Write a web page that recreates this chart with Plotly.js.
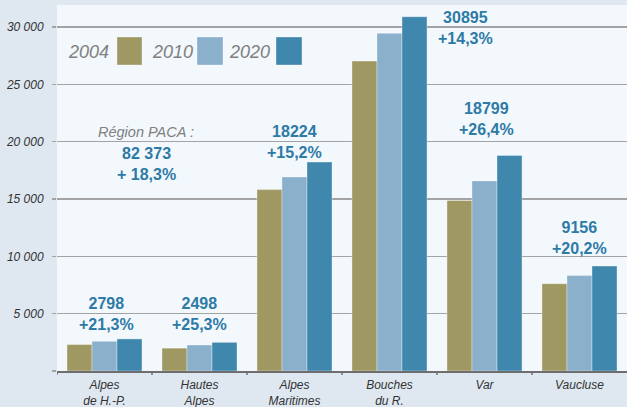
<!DOCTYPE html>
<html>
<head>
<meta charset="utf-8">
<script src="https://cdn.plot.ly/plotly-3.0.1.min.js"></script>
<style>html,body{margin:0;padding:0;background:#dfe8f1;}#chart{width:627px;height:407px;}</style>
</head>
<body>
<div id="chart"></div>
<script>
// Data
var departements = ["Alpes<br>de H.-P.", "Hautes<br>Alpes", "Alpes<br>Maritimes", "Bouches<br>du R.", "Var", "Vaucluse"];
var years = ["2004", "2010", "2020"];
var values2004 = [2307, 1994, 15819, 27030, 14873, 7617];
var values2010 = [2590, 2270, 16930, 29450, 16580, 8320];
var values2020 = [2798, 2498, 18224, 30895, 18799, 9156];
var totals2020 = ["2798", "2498", "18224", "30895", "18799", "9156"];
var growth = ["+21,3%", "+25,3%", "+15,2%", "+14,3%", "+26,4%", "+20,2%"];
var regionLabel = "Région PACA :";
var regionTotal = "82 373";
var regionGrowth = "+ 18,3%";
var yTicks = [0, 5000, 10000, 15000, 20000, 25000, 30000];
var yTickLabels = ["", "5 000", "10 000", "15 000", "20 000", "25 000", "30 000"];

var colors = ["#a09862", "#8ab0cc", "#3f87ad"];
var series = [values2004, values2010, values2020];
var cats = [0,1,2,3,4,5];

var traces = series.map(function(v, i){
  return {
    type: "bar", x: cats, y: v, name: years[i],
    marker: {color: colors[i], line: {color: "rgba(255,255,255,0.35)", width: 1}},
    hoverinfo: "skip", showlegend: false
  };
});

// label placement (x as category index, y in data units)
var labelPos = [[0.02, 5015], [1, 5015], [2, 19970], [3.795, 29900], [4.016, 22020], [5, 11600]];
var annFont = {family: "Liberation Sans, Arial, sans-serif", size: 16, color: "#2e7aa6"};
var annotations = totals2020.map(function(t, i){
  return {x: labelPos[i][0], y: labelPos[i][1], xref: "x", yref: "y",
    text: "<b>" + t + "<br>" + growth[i] + "</b>", showarrow: false,
    font: annFont, xanchor: "center", yanchor: "middle", align: "center"};
});
annotations.push({x: 0.437, y: 20840, xref: "x", yref: "y", text: "<i>" + regionLabel + "</i>",
  showarrow: false, font: {family: "Liberation Sans, Arial, sans-serif", size: 14.5, color: "#808080"}});
annotations.push({x: 0.437, y: 18010, xref: "x", yref: "y",
  text: "<b>" + regionTotal + "<br>" + regionGrowth + "</b>", showarrow: false, font: annFont, align: "center"});

// legend (text left of colour box)
var legendText = [[88, 0], [172, 1], [249, 2]];
var boxes = [[117, 142], [197, 223], [276, 302]];
var shapes = [];
years.forEach(function(y, i){
  annotations.push({xref: "paper", yref: "paper", x: (legendText[i][0] - 57) / 570, y: (371 - 52) / 366,
    text: "<i>" + y + "</i>", showarrow: false, xanchor: "center", yanchor: "middle",
    font: {family: "Liberation Sans, Arial, sans-serif", size: 18, color: "#808080"}});
  shapes.push({type: "rect", xref: "paper", yref: "paper",
    x0: (boxes[i][0] - 57) / 570, x1: (boxes[i][1] - 57) / 570,
    y0: (371 - 65) / 366, y1: (371 - 37) / 366,
    fillcolor: colors[i], line: {color: "rgba(255,255,255,0.35)", width: 1}});
});

var tickFont = {family: "Liberation Sans, Arial, sans-serif", size: 12, color: "#333333"};

var layout = {
  width: 627, height: 407,
  margin: {l: 57, r: 0, t: 5, b: 36, pad: 0},
  paper_bgcolor: "#dfe8f1",
  plot_bgcolor: "#f3f8fd",
  barmode: "group",
  bargap: 0.21, bargroupgap: 0,
  showlegend: false,
  xaxis: {
    type: "linear", range: [-0.5, 5.5], tickvals: cats, ticktext: departements.map(function(d){return "<i>" + d + "</i>";}),
    showgrid: false, zeroline: false, showline: true, linecolor: "#6e6e6e", linewidth: 1.5,
    ticks: "", tickfont: tickFont, ticklabelstandoff: 2, fixedrange: true
  },
  yaxis: {
    range: [0, 31920], tickvals: yTicks, ticktext: yTickLabels.map(function(t){return t ? "<i>" + t + "</i>" : "";}),
    showgrid: true, gridcolor: "#a3a3a3", gridwidth: 1.5, zeroline: false,
    ticks: "outside", ticklen: 4, tickcolor: "#a3a3a3", tickwidth: 1.5,
    tickfont: tickFont, ticklabelstandoff: 6, fixedrange: true
  },
  annotations: annotations,
  shapes: shapes.concat([-0.5, 0.5, 1.5, 2.5, 3.5, 4.5].map(function(b){
    return {type: "line", xref: "x", yref: "paper", x0: b, x1: b, y0: 0, y1: -4/366, line: {color: "#6e6e6e", width: 1.5}};
  }))
};

Plotly.newPlot("chart", traces, layout, {displayModeBar: false, staticPlot: true});
</script>
</body>
</html>
